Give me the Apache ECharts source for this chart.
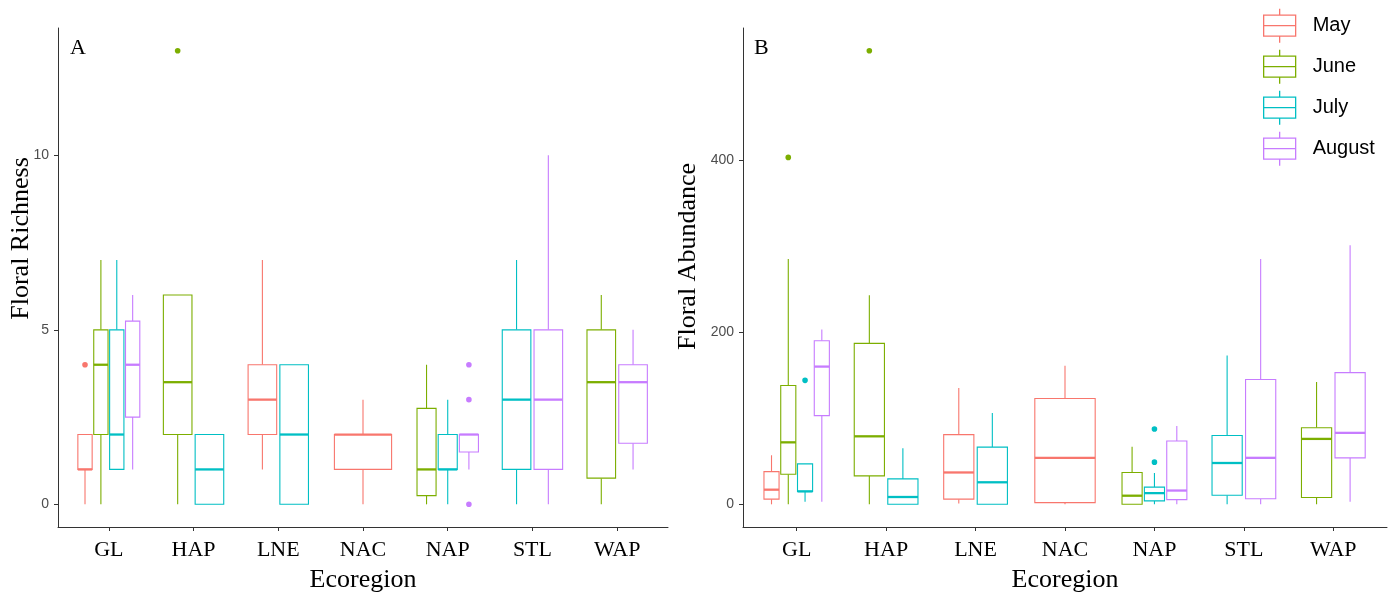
<!DOCTYPE html>
<html><head><meta charset="utf-8">
<script src="https://cdn.jsdelivr.net/npm/echarts@6/dist/echarts.min.js"></script>
<style>html,body{margin:0;padding:0;background:#fff}#c{width:1398px;height:594px}</style>
</head><body><div id="c"></div>
<script>
const categories = ['GL','HAP','LNE','NAC','NAP','STL','WAP'];
const months = ['May','June','July','August'];
const colors = ['#F8766D','#7CAE00','#00BFC4','#C77CFF'];
const richnessTicks = [0,5,10];
const abundanceTicks = [0,200,400];

// Floral richness: [min, q1, median, q3, max] per ecoregion; null = not sampled
const richMay    = [[0,1,1,2,2], null, [1,2,3,4,7], [0,1,2,2,3], null, null, null];
const richJune   = [[0,2,4,5,7], [0,2,3.5,6,6], null, null, [0,0.25,1,2.75,4], null, [0,0.75,3.5,5,6]];
const richJuly   = [[1,1,2,5,7], [0,0,1,2,2], [0,0,2,4,4], null, [0,1,1,2,3], [0,1,3,5,7], null];
const richAugust = [[1,2.5,4,5.25,6], null, null, null, [1,1.5,2,2,2], [0,1,3,5,10], [1,1.75,3.5,4,5]];
// outliers: [ecoregion index, value]
const richOutMay    = [[0,4]];
const richOutJune   = [[1,13]];
const richOutJuly   = [];
const richOutAugust = [[4,4],[4,3],[4,0]];

// Floral abundance
const abMay    = [[0,6,17,38,57], null, [1,6,37,81,135], [0,2,54,123,161], null, null, null];
const abJune   = [[0,35,72,138,285], [0,33,79,187,243], null, null, [0,0,10,37,67], null, [0,8,76,89,142]];
const abJuly   = [[3,15,15,47,47], [0,0,8.5,29.5,65], [0,0,25.6,66.5,106], null, [0,4,13,20,36.5], [0,10.5,48,80,173], null];
const abAugust = [[3,103,160,190,203], null, null, null, [0,5.5,16,73.5,91], [0,6.5,54,145,285], [3,54,83,153,301]];
const abOutMay    = [];
const abOutJune   = [[0,403],[1,527]];
const abOutJuly   = [[0,144],[4,87.5],[4,49]];
const abOutAugust = [];

const richStats = [richMay, richJune, richJuly, richAugust];
const richOut = [richOutMay, richOutJune, richOutJuly, richOutAugust];
const abStats = [abMay, abJune, abJuly, abAugust];
const abOut = [abOutMay, abOutJune, abOutJuly, abOutAugust];

const DODGE = 0.75;
function slot(stats, ci, mi) {
  const present = [];
  for (let m = 0; m < stats.length; m++) if (stats[m][ci]) present.push(m);
  const n = present.length, k = present.indexOf(mi);
  const sw = DODGE / n;
  return { off: -DODGE/2 + (k + 0.5) * sw, w: sw * 0.9 };
}

function boxSeries(stats, mi, gi) {
  const data = [];
  stats[mi].forEach((s, ci) => { if (s) data.push([ci].concat(s)); });
  const c = colors[mi];
  return {
    type: 'custom', name: months[mi], xAxisIndex: gi, yAxisIndex: gi, data,
    encode: { x: 0, y: [1,2,3,4,5] },
    renderItem: (params, api) => {
      const ci = api.value(0);
      const sl = slot(stats, ci, mi);
      const unit = api.size([1, 0])[0];
      const cx = api.coord([ci + sl.off, 0])[0];
      const half = sl.w * unit / 2;
      const y = k => api.coord([ci, api.value(k)])[1];
      const yMin = y(1), yQ1 = y(2), yMed = y(3), yQ3 = y(4), yMax = y(5);
      const ls = { stroke: c, lineWidth: 1.1, fill: null };
      return { type: 'group', children: [
        { type: 'line', shape: { x1: cx, y1: yMax, x2: cx, y2: yQ3 }, style: ls },
        { type: 'line', shape: { x1: cx, y1: yQ1, x2: cx, y2: yMin }, style: ls },
        { type: 'rect', shape: { x: cx - half, y: yQ3, width: 2 * half, height: yQ1 - yQ3 }, style: { fill: '#fff', stroke: c, lineWidth: 1.1 } },
        { type: 'line', shape: { x1: cx - half, y1: yMed, x2: cx + half, y2: yMed }, style: { stroke: c, lineWidth: 2.3 } }
      ]};
    }
  };
}

function outlierSeries(stats, outs, mi, gi) {
  const c = colors[mi];
  return {
    type: 'custom', name: months[mi], xAxisIndex: gi, yAxisIndex: gi, data: outs[mi],
    encode: { x: 0, y: 1 },
    renderItem: (params, api) => {
      const ci = api.value(0);
      const sl = slot(stats, ci, mi);
      const p = api.coord([ci + sl.off, api.value(1)]);
      return { type: 'circle', shape: { cx: p[0], cy: p[1], r: 2.8 }, style: { fill: c } };
    }
  };
}

const serif = '"Liberation Serif", "Times New Roman", serif';
const sans = '"Liberation Sans", Arial, sans-serif';
const axisLineStyle = { color: '#333', width: 1 };

function xAxis(gi) {
  return {
    type: 'value', gridIndex: gi, min: -0.6, max: categories.length - 0.4,
    splitLine: { show: false },
    axisLine: { show: true, onZero: false, lineStyle: axisLineStyle },
    axisTick: { show: true, length: 4, lineStyle: axisLineStyle, customValues: categories.map((_, i) => i) },
    axisLabel: { customValues: categories.map((_, i) => i), formatter: v => categories[Math.round(v)] || '',
      fontFamily: serif, fontSize: 22, color: '#000', margin: 12 },
    name: 'Ecoregion', nameLocation: 'middle', nameGap: 40, nameMoveOverlap: false,
    nameTextStyle: { fontFamily: serif, fontSize: 26, color: '#000' }
  };
}
function yAxis(gi, min, max, ticks, name, gap, pad) {
  return {
    type: 'value', gridIndex: gi, min, max,
    splitLine: { show: false },
    axisLine: { show: true, onZero: false, lineStyle: axisLineStyle },
    axisTick: { show: true, length: 4, lineStyle: axisLineStyle, customValues: ticks },
    axisLabel: { customValues: ticks, fontFamily: sans, fontSize: 14, color: '#4d4d4d', margin: 9 },
    name, nameLocation: 'middle', nameGap: gap, nameRotate: 90, nameMoveOverlap: false,
    nameTextStyle: { fontFamily: serif, fontSize: 26, color: '#000', padding: pad }
  };
}

const series = [];
for (let mi = 0; mi < 4; mi++) {
  series.push(boxSeries(richStats, mi, 0));
  series.push(outlierSeries(richStats, richOut, mi, 0));
  series.push(boxSeries(abStats, mi, 1));
  series.push(outlierSeries(abStats, abOut, mi, 1));
}

const legendIcon = 'path://M16,0L16,6.5M0,6.5L32,6.5L32,27.5L0,27.5ZM0,17L32,17M16,27.5L16,34';

const option = {
  animation: false,
  backgroundColor: '#fff',
  grid: [
    { left: 58, right: 1398 - 668, top: 28, bottom: 67, outerBoundsMode: 'none', containLabel: false },
    { left: 743, right: 11, top: 28, bottom: 67, outerBoundsMode: 'none', containLabel: false }
  ],
  xAxis: [xAxis(0), xAxis(1)],
  yAxis: [
    yAxis(0, -0.65, 13.65, richnessTicks, 'Floral Richness', 24, [0, 0, 0, 78]),
    yAxis(1, -26.35, 553.35, abundanceTicks, 'Floral Abundance', 42, [0, 0, 0, 42])
  ],
  legend: {
    orient: 'vertical', left: 1258, top: 3, itemWidth: 32, itemHeight: 34, itemGap: 5.7,
    icon: legendIcon,
    data: months.map((m, i) => ({ name: m, itemStyle: { color: 'transparent', borderColor: colors[i], borderWidth: 1.3 } })),
    textStyle: { fontFamily: sans, fontSize: 20, color: '#000', padding: [8, 0, 0, 12] }
  },
  graphic: [
    { type: 'text', left: 70, top: 37, style: { text: 'A', font: '22px ' + serif, fill: '#000' } },
    { type: 'text', left: 754, top: 37, style: { text: 'B', font: '22px ' + serif, fill: '#000' } }
  ],
  series
};
const chart = echarts.init(document.getElementById('c'));
chart.setOption(option);
</script></body></html>
